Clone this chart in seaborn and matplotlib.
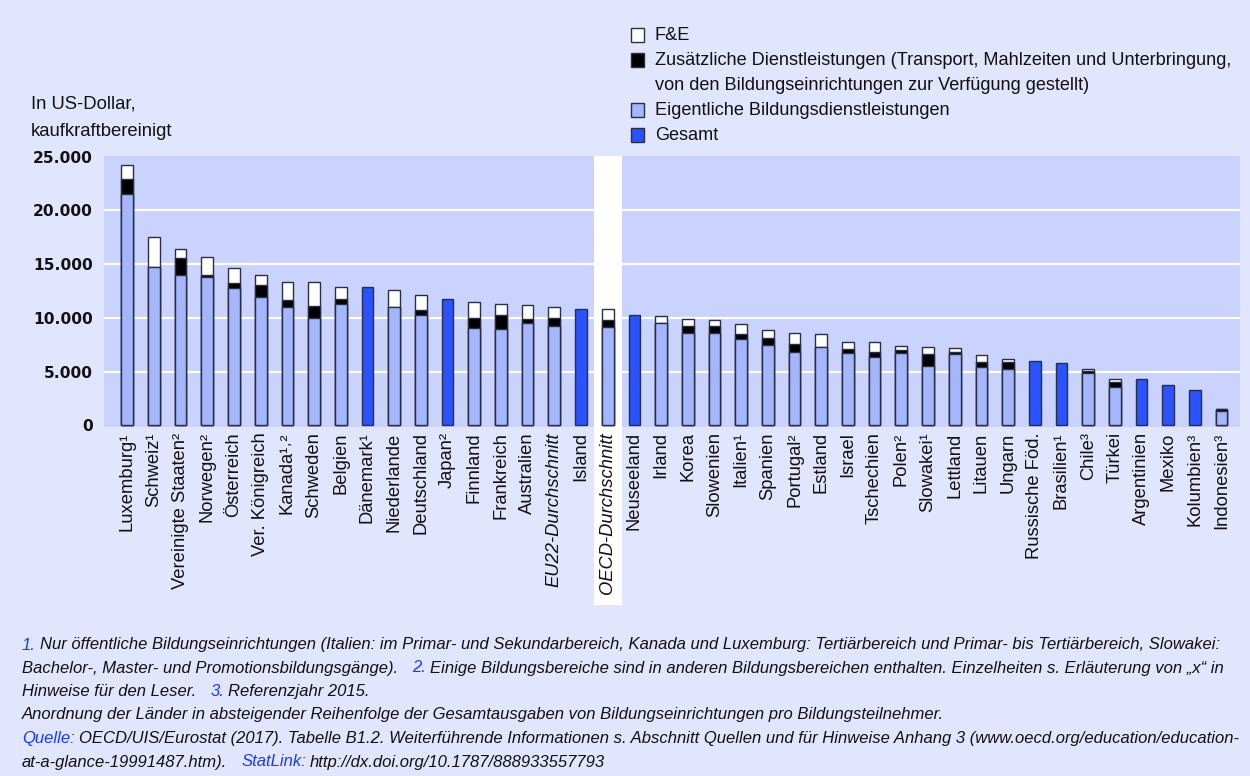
import numpy as np
import pandas as pd
import seaborn as sns
import matplotlib.pyplot as plt
from matplotlib.patches import Rectangle

# Ausgaben pro Bildungsteilnehmer (US-Dollar, kaufkraftbereinigt)
laender = [
    "Luxemburg¹", "Schweiz¹", "Vereinigte Staaten²", "Norwegen²", "Österreich",
    "Ver. Königreich", "Kanada¹˒²", "Schweden", "Belgien", "Dänemark¹",
    "Niederlande", "Deutschland", "Japan²", "Finnland", "Frankreich",
    "Australien", "EU22-Durchschnitt", "Island", "OECD-Durchschnitt", "Neuseeland",
    "Irland", "Korea", "Slowenien", "Italien¹", "Spanien",
    "Portugal²", "Estland", "Israel", "Tschechien", "Polen²",
    "Slowakei¹", "Lettland", "Litauen", "Ungarn", "Russische Föd.",
    "Brasilien¹", "Chile³", "Türkei", "Argentinien", "Mexiko",
    "Kolumbien³", "Indonesien³",
]
nan = np.nan
kern = [21560, 14710, 14020, 13850, 12780, 11970, 10990, 10020, 11320, nan,
        11040, 10270, nan, 9090, 8990, 9520, 9270, nan, 9180, nan,
        9500, 8590, 8620, 8060, 7450, 6800, 7260, 6700, 6390, 6760,
        5520, 6640, 5460, 5270, nan, nan, 4900, 3590, nan, nan,
        nan, 1360]
zusatz = [1370, 0, 1530, 100, 490, 1120, 700, 1090, 440, nan,
          0, 440, nan, 900, 1280, 350, 690, nan, 600, nan,
          0, 650, 600, 440, 650, 740, 60, 370, 410, 250,
          1090, 190, 410, 620, nan, nan, 200, 410, nan, nan,
          nan, 180]
fue = [1280, 2790, 840, 1690, 1340, 900, 1620, 2210, 1150, nan,
       1530, 1450, nan, 1460, 1000, 1360, 1020, nan, 1050, nan,
       650, 680, 560, 900, 750, 1020, 1150, 710, 980, 400,
       710, 400, 700, 280, nan, nan, 110, 340, nan, nan,
       nan, 0]
gesamt = [nan, nan, nan, nan, nan, nan, nan, nan, nan, 12850,
          nan, nan, 11730, nan, nan, nan, nan, 10830, nan, 10300,
          nan, nan, nan, nan, nan, nan, nan, nan, nan, nan,
          nan, nan, nan, nan, 5960, 5770, nan, nan, 4280, 3750,
          3310, nan]

y_ticks = [0, 5000, 10000, 15000, 20000, 25000]
y_labels = ["0", "5.000", "10.000", "15.000", "20.000", "25.000"]

df = pd.DataFrame({"land": laender, "kern": kern, "zusatz": zusatz,
                   "fue": fue, "gesamt": gesamt})
df["mitte"] = df["kern"] + df["zusatz"]
df["oben"] = df["mitte"] + df["fue"]

# Farben
bg_fig = "#e1e5fd"
bg_ax = "#c9d3fd"
hellblau = "#a4b6fd"
blau = "#2a52fe"
rand = "#2b2f45"

W, H = 1250, 776
fig = plt.figure(figsize=(W / 100, H / 100), dpi=100, facecolor=bg_fig)
ax = fig.add_axes([104 / W, 1 - 426.7 / H, (1239.5 - 104) / W, (426.7 - 156) / H])
ax.set_facecolor(bg_ax)

detail = df[df["kern"].notna()]
schichten = [("oben", "white"), ("mitte", "black"), ("kern", hellblau)]
for spalte, farbe in schichten:
    sns.barplot(data=detail, x="land", y=spalte, order=laender, color=farbe,
                saturation=1, width=0.44, edgecolor=rand, linewidth=1.0,
                errorbar=None, ax=ax, zorder=3)
sns.barplot(data=df[df["gesamt"].notna()], x="land", y="gesamt", order=laender,
            color=blau, saturation=1, width=0.44, edgecolor=rand, linewidth=1.0,
            errorbar=None, ax=ax, zorder=3)

# Gitterlinien und weisser Streifen fuer OECD-Durchschnitt
for t in y_ticks[1:-1]:
    ax.axhline(t, color="white", lw=1.6, zorder=0.3)
oecd = laender.index("OECD-Durchschnitt")
ax.axvspan(oecd - 0.5, oecd + 0.52, ymin=-0.659, ymax=1, color="white",
           lw=0, zorder=0.6, clip_on=False)

ax.set_xlim(-0.87, 41.67)
ax.set_ylim(-130, 25070)
for s in ax.spines.values():
    s.set_visible(False)

ax.set_yticks(y_ticks)
ax.set_yticklabels(y_labels, fontsize=11.2, fontweight="bold",
                   family="DejaVu Sans", color="#111111")
ax.tick_params(axis="y", length=0, pad=8)
ax.set_xticks(range(len(laender)))
ax.set_xticklabels(laender, rotation=90, fontsize=13.2, family="Liberation Sans",
                   color="#111111")
ax.tick_params(axis="x", length=0, pad=4)
for lbl in ax.get_xticklabels():
    if "Durchschnitt" in lbl.get_text():
        lbl.set_style("italic")
ax.set_xlabel("")
ax.set_ylabel("")

# Achsentitel
fig.text(31 / W, 1 - 104 / H, "In US-Dollar,", fontsize=13.3,
         family="Liberation Sans", va="center", color="#111111")
fig.text(31 / W, 1 - 131 / H, "kaufkraftbereinigt", fontsize=13.3,
         family="Liberation Sans", va="center", color="#111111")

# Legende
legende = [
    ("F&E", "white", 35),
    ("Zusätzliche Dienstleistungen (Transport, Mahlzeiten und Unterbringung,", "black", 60),
    ("von den Bildungseinrichtungen zur Verfügung gestellt)", None, 85),
    ("Eigentliche Bildungsdienstleistungen", hellblau, 110),
    ("Gesamt", blau, 135),
]
for text, farbe, y in legende:
    if farbe is not None:
        fig.patches.append(Rectangle((631 / W, 1 - (y + 6.5) / H), 13 / W, 13 / H,
                                     transform=fig.transFigure, facecolor=farbe,
                                     edgecolor=rand, lw=1.0))
    fig.text(655 / W, 1 - (y + 5) / H, text, fontsize=13.1, family="Liberation Sans",
             va="baseline", color="#111111")

# Fussnoten
renderer = fig.canvas.get_renderer()
fn_blau = "#1a3cf0"
fn_schwarz = "#111111"


def zeile(teile, y):
    x = 22
    for text, farbe, luecke in teile:
        x += luecke
        t = fig.text(x / W, 1 - (y + 4.5) / H, text, color=farbe, fontsize=12.0,
                     style="italic", family="Liberation Sans", va="baseline")
        x = t.get_window_extent(renderer).x1


zeile([("1.", fn_blau, 0),
       ("Nur öffentliche Bildungseinrichtungen (Italien: im Primar- und Sekundarbereich, "
        "Kanada und Luxemburg: Tertiärbereich und Primar- bis Tertiärbereich, Slowakei:",
        fn_schwarz, 4)], 645)
zeile([("Bachelor-, Master- und Promotionsbildungsgänge).", fn_schwarz, 0),
       ("2.", fn_blau, 14),
       ("Einige Bildungsbereiche sind in anderen Bildungsbereichen enthalten. "
        "Einzelheiten s. Erläuterung von „x“ in", fn_schwarz, 4)], 668)
zeile([("Hinweise für den Leser.", fn_schwarz, 0),
       ("3.", fn_blau, 14),
       ("Referenzjahr 2015.", fn_schwarz, 4)], 691.5)
zeile([("Anordnung der Länder in absteigender Reihenfolge der Gesamtausgaben von "
        "Bildungseinrichtungen pro Bildungsteilnehmer.", fn_schwarz, 0)], 714)
zeile([("Quelle:", fn_blau, 0),
       ("OECD/UIS/Eurostat (2017). Tabelle B1.2. Weiterführende Informationen s. Abschnitt "
        "Quellen und für Hinweise Anhang 3 (www.oecd.org/education/education-",
        fn_schwarz, 4)], 738.5)
zeile([("at-a-glance-19991487.htm).", fn_schwarz, 0),
       ("StatLink:", fn_blau, 14),
       ("http://dx.doi.org/10.1787/888933557793", fn_schwarz, 4)], 762)

fig.savefig("out.png", dpi=100, facecolor=bg_fig)
